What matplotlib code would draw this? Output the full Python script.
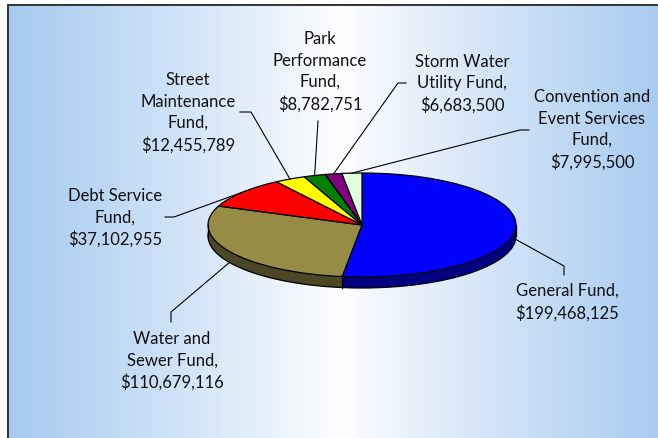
import numpy as np
import matplotlib
matplotlib.use("Agg")
import matplotlib.pyplot as plt
from matplotlib.patches import Ellipse
from matplotlib.lines import Line2D

# ---- data ----
funds = ["General Fund,", "Water and\nSewer Fund,", "Debt Service\nFund,",
         "Street\nMaintenance\nFund,", "Park\nPerformance\nFund,",
         "Storm Water\nUtility Fund,", "Convention and\nEvent Services\nFund,"]
amounts = [199468125, 110679116, 37102955, 12455789, 8782751, 6683500, 7995500]
colors = ["#0000FF", "#968C46", "#FF0000", "#FFFF00", "#008000", "#800080", "#E0FFE0"]

# ---- layout (pixels) ----
W, H, DPI = 658, 439, 100
CX, CY, RX, RY = 362.0, 226.0, 154.0, 52.0   # pie centre / radii on screen
DEPTH = 11.0 / RY                             # pie thickness in data units

# label centre positions and leader elbows/ends (px)
label_pos = [(567, 302), (172, 361), (115, 218), (188, 113), (320, 72), (462, 84), (592, 130)]
leader_pts = [[(564, 267), (564, 276)],
              [(171, 313), (171, 323)],
              [(174, 218), (165, 218)],
              [(251, 113), (240, 113)],
              [(318, 122), (318, 122)],
              [(398, 84), (406, 84)],
              [(520, 131), (529, 131)]]

FONT = ["Lato", "DejaVu Sans"]


def px2d(px, py):
    return (px - CX) / RX, (CY - py) / RY


fig = plt.figure(figsize=(W / DPI, H / DPI), dpi=DPI)
fig.patch.set_facecolor("white")

# background gradient panel
bx0, by0 = 7.5, 5.5
bg = fig.add_axes([bx0 / W, 0, 1 - bx0 / W, (H - by0) / H])
bg.set_axis_off()
blue = np.array([166, 202, 240]) / 255.0
xs = np.linspace(0, 1, 400)
t = np.abs(xs - 0.5) / 0.5
t = np.clip(t, 0, 1) ** 0.9
grad = (1 - t)[:, None] * np.ones(3) + t[:, None] * blue
bg.imshow(grad[None, :, :], aspect="auto", extent=[0, 1, 0, 1])
bg.set_xlim(0, (W - bx0) / (670 - bx0))
bg.set_ylim(0, 1)

# border
fig.add_artist(Line2D([bx0 / W, 1.0], [1 - by0 / H] * 2, color="#333333", lw=1.4,
                      transform=fig.transFigure))
fig.add_artist(Line2D([bx0 / W] * 2, [0, 1 - by0 / H], color="#333333", lw=1.4,
                      transform=fig.transFigure))

ax = fig.add_axes([0, 0, 1, 1])
ax.set_axis_off()
ax.patch.set_alpha(0)

dark = [tuple(0.5 * np.array(matplotlib.colors.to_rgb(c))) for c in colors]

# side wall: stack of darker pies
for off in np.linspace(DEPTH, 0.0, 40):
    ax.pie(amounts, colors=dark, startangle=90, counterclock=False,
           center=(0, -off), radius=1.0, frame=True,
           wedgeprops=dict(linewidth=0, edgecolor="none", antialiased=True))

# base outline
ax.add_patch(Ellipse((0, -DEPTH), 2, 2, facecolor="none", edgecolor="black", lw=0.9))
ax.plot([-1, -1], [0, -DEPTH], color="black", lw=0.9)
ax.plot([1, 1], [0, -DEPTH], color="black", lw=0.9)

# vertical edges at slice boundaries on the front side
total = float(sum(amounts))
cum = np.cumsum([0] + amounts) / total
for c in cum[1:-1]:
    ang = np.deg2rad(90 - 360 * c)
    if np.sin(ang) < 0:
        ax.plot([np.cos(ang)] * 2, [np.sin(ang), np.sin(ang) - DEPTH], color="black", lw=0.9)

# top face
ax.pie(amounts, colors=colors, startangle=90, counterclock=False,
       center=(0, 0), radius=1.0, frame=True,
       wedgeprops=dict(linewidth=0.9, edgecolor="black"))

# labels + leader lines
for i, (name, val) in enumerate(zip(funds, amounts)):
    mid = np.deg2rad(90 - 360 * (cum[i] + cum[i + 1]) / 2)
    sx, sy = np.cos(mid), np.sin(mid)
    if sy < 0:
        sy -= DEPTH
    pts = [(sx, sy)] + [px2d(*p) for p in leader_pts[i]]
    ax.plot([p[0] for p in pts], [p[1] for p in pts], color="black", lw=0.8)
    lx, ly = px2d(*label_pos[i])
    ax.text(lx, ly, f"{name}\n${val:,}", ha="center", va="center",
            multialignment="center", fontsize=12, family=FONT,
            linespacing=1.42, color="#111111")

ax.set_aspect("auto")
ax.set_xlim(px2d(0, 0)[0], px2d(W, 0)[0])
ax.set_ylim(px2d(0, H)[1], px2d(0, 0)[1])
ax.set_axis_off()

fig.savefig("out.png", dpi=DPI)
